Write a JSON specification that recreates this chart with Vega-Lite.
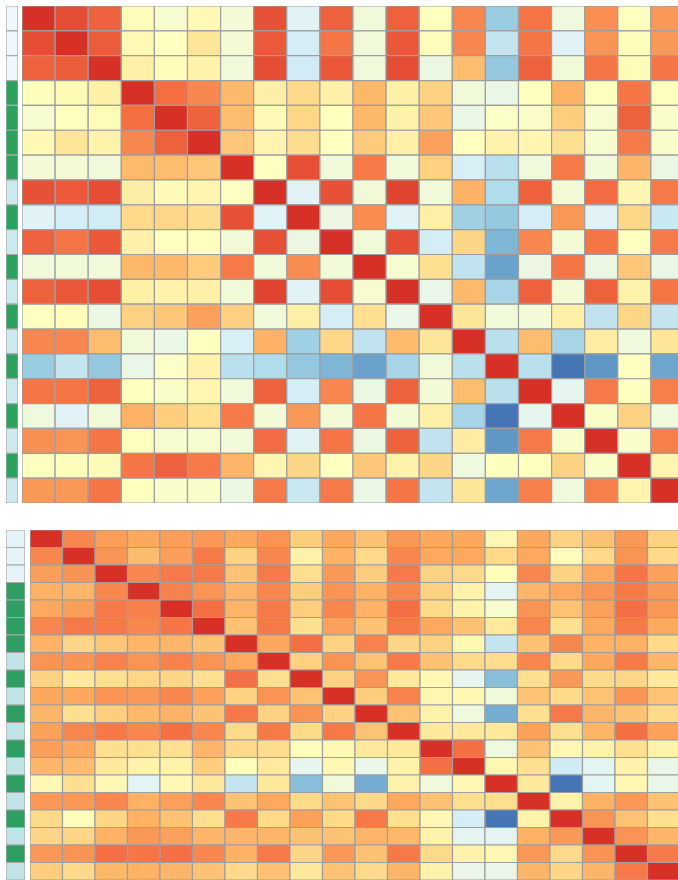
{
"$schema": "https://vega.github.io/schema/vega-lite/v6.json",
"padding": {"left": 6, "top": 6, "right": 0, "bottom": 0},
"background": "white",
"config": {"view": {"stroke": null}},
"datasets": {
"strip": [
{"r":0,"g":"A"},{"r":1,"g":"A"},{"r":2,"g":"A"},{"r":3,"g":"B"},{"r":4,"g":"B"},{"r":5,"g":"B"},{"r":6,"g":"B"},{"r":7,"g":"C"},{"r":8,"g":"B"},{"r":9,"g":"C"},{"r":10,"g":"B"},{"r":11,"g":"C"},{"r":12,"g":"B"},{"r":13,"g":"C"},{"r":14,"g":"B"},{"r":15,"g":"C"},{"r":16,"g":"B"},{"r":17,"g":"C"},{"r":18,"g":"B"},{"r":19,"g":"C"}
],
"top": [
{"r":0,"c":0,"v":1},{"r":0,"c":1,"v":0.88},{"r":0,"c":2,"v":0.8},{"r":0,"c":3,"v":0.02},{"r":0,"c":4,"v":-0.07},{"r":0,"c":5,"v":0.05},{"r":0,"c":6,"v":-0.1},{"r":0,"c":7,"v":0.86},{"r":0,"c":8,"v":-0.24},{"r":0,"c":9,"v":0.8},{"r":0,"c":10,"v":-0.12},{"r":0,"c":11,"v":0.8},{"r":0,"c":12,"v":0},{"r":0,"c":13,"v":0.65},{"r":0,"c":14,"v":-0.58},{"r":0,"c":15,"v":0.72},{"r":0,"c":16,"v":-0.13},{"r":0,"c":17,"v":0.62},{"r":0,"c":18,"v":0},{"r":0,"c":19,"v":0.58},
{"r":1,"c":0,"v":0.88},{"r":1,"c":1,"v":1},{"r":1,"c":2,"v":0.82},{"r":1,"c":3,"v":0.05},{"r":1,"c":4,"v":0},{"r":1,"c":5,"v":0.2},{"r":1,"c":6,"v":-0.09},{"r":1,"c":7,"v":0.83},{"r":1,"c":8,"v":-0.3},{"r":1,"c":9,"v":0.72},{"r":1,"c":10,"v":-0.11},{"r":1,"c":11,"v":0.84},{"r":1,"c":12,"v":0.02},{"r":1,"c":13,"v":0.65},{"r":1,"c":14,"v":-0.38},{"r":1,"c":15,"v":0.72},{"r":1,"c":16,"v":-0.24},{"r":1,"c":17,"v":0.6},{"r":1,"c":18,"v":0.02},{"r":1,"c":19,"v":0.58},
{"r":2,"c":0,"v":0.8},{"r":2,"c":1,"v":0.82},{"r":2,"c":2,"v":1},{"r":2,"c":3,"v":0.12},{"r":2,"c":4,"v":0.03},{"r":2,"c":5,"v":0.1},{"r":2,"c":6,"v":-0.12},{"r":2,"c":7,"v":0.88},{"r":2,"c":8,"v":-0.32},{"r":2,"c":9,"v":0.84},{"r":2,"c":10,"v":-0.12},{"r":2,"c":11,"v":0.88},{"r":2,"c":12,"v":-0.16},{"r":2,"c":13,"v":0.43},{"r":2,"c":14,"v":-0.6},{"r":2,"c":15,"v":0.8},{"r":2,"c":16,"v":-0.11},{"r":2,"c":17,"v":0.72},{"r":2,"c":18,"v":0.03},{"r":2,"c":19,"v":0.72},
{"r":3,"c":0,"v":0.02},{"r":3,"c":1,"v":0.05},{"r":3,"c":2,"v":0.12},{"r":3,"c":3,"v":1},{"r":3,"c":4,"v":0.75},{"r":3,"c":5,"v":0.65},{"r":3,"c":6,"v":0.44},{"r":3,"c":7,"v":0.13},{"r":3,"c":8,"v":0.28},{"r":3,"c":9,"v":0.11},{"r":3,"c":10,"v":0.45},{"r":3,"c":11,"v":0.12},{"r":3,"c":12,"v":0.32},{"r":3,"c":13,"v":-0.11},{"r":3,"c":14,"v":-0.17},{"r":3,"c":15,"v":0},{"r":3,"c":16,"v":0.48},{"r":3,"c":17,"v":0},{"r":3,"c":18,"v":0.72},{"r":3,"c":19,"v":0},
{"r":4,"c":0,"v":-0.07},{"r":4,"c":1,"v":0},{"r":4,"c":2,"v":0.03},{"r":4,"c":3,"v":0.75},{"r":4,"c":4,"v":1},{"r":4,"c":5,"v":0.8},{"r":4,"c":6,"v":0.43},{"r":4,"c":7,"v":0.04},{"r":4,"c":8,"v":0.3},{"r":4,"c":9,"v":0},{"r":4,"c":10,"v":0.45},{"r":4,"c":11,"v":0.1},{"r":4,"c":12,"v":0.38},{"r":4,"c":13,"v":-0.17},{"r":4,"c":14,"v":-0.03},{"r":4,"c":15,"v":-0.04},{"r":4,"c":16,"v":0.34},{"r":4,"c":17,"v":-0.07},{"r":4,"c":18,"v":0.8},{"r":4,"c":19,"v":-0.05},
{"r":5,"c":0,"v":0.05},{"r":5,"c":1,"v":0.2},{"r":5,"c":2,"v":0.1},{"r":5,"c":3,"v":0.65},{"r":5,"c":4,"v":0.8},{"r":5,"c":5,"v":1},{"r":5,"c":6,"v":0.38},{"r":5,"c":7,"v":0.08},{"r":5,"c":8,"v":0.26},{"r":5,"c":9,"v":0},{"r":5,"c":10,"v":0.36},{"r":5,"c":11,"v":0.12},{"r":5,"c":12,"v":0.55},{"r":5,"c":13,"v":0},{"r":5,"c":14,"v":0.1},{"r":5,"c":15,"v":0.07},{"r":5,"c":16,"v":0.25},{"r":5,"c":17,"v":-0.07},{"r":5,"c":18,"v":0.7},{"r":5,"c":19,"v":-0.05},
{"r":6,"c":0,"v":-0.1},{"r":6,"c":1,"v":-0.09},{"r":6,"c":2,"v":-0.12},{"r":6,"c":3,"v":0.44},{"r":6,"c":4,"v":0.43},{"r":6,"c":5,"v":0.38},{"r":6,"c":6,"v":1},{"r":6,"c":7,"v":-0.01},{"r":6,"c":8,"v":0.87},{"r":6,"c":9,"v":-0.11},{"r":6,"c":10,"v":0.7},{"r":6,"c":11,"v":-0.11},{"r":6,"c":12,"v":0.33},{"r":6,"c":13,"v":-0.29},{"r":6,"c":14,"v":-0.43},{"r":6,"c":15,"v":-0.12},{"r":6,"c":16,"v":0.7},{"r":6,"c":17,"v":-0.12},{"r":6,"c":18,"v":0.46},{"r":6,"c":19,"v":-0.16},
{"r":7,"c":0,"v":0.86},{"r":7,"c":1,"v":0.83},{"r":7,"c":2,"v":0.88},{"r":7,"c":3,"v":0.13},{"r":7,"c":4,"v":0.04},{"r":7,"c":5,"v":0.08},{"r":7,"c":6,"v":-0.01},{"r":7,"c":7,"v":1},{"r":7,"c":8,"v":-0.24},{"r":7,"c":9,"v":0.86},{"r":7,"c":10,"v":-0.11},{"r":7,"c":11,"v":0.92},{"r":7,"c":12,"v":-0.12},{"r":7,"c":13,"v":0.48},{"r":7,"c":14,"v":-0.47},{"r":7,"c":15,"v":0.8},{"r":7,"c":16,"v":-0.1},{"r":7,"c":17,"v":0.76},{"r":7,"c":18,"v":0.07},{"r":7,"c":19,"v":0.7},
{"r":8,"c":0,"v":-0.24},{"r":8,"c":1,"v":-0.3},{"r":8,"c":2,"v":-0.32},{"r":8,"c":3,"v":0.28},{"r":8,"c":4,"v":0.3},{"r":8,"c":5,"v":0.26},{"r":8,"c":6,"v":0.87},{"r":8,"c":7,"v":-0.24},{"r":8,"c":8,"v":1},{"r":8,"c":9,"v":-0.16},{"r":8,"c":10,"v":0.63},{"r":8,"c":11,"v":-0.24},{"r":8,"c":12,"v":0.13},{"r":8,"c":13,"v":-0.55},{"r":8,"c":14,"v":-0.6},{"r":8,"c":15,"v":-0.3},{"r":8,"c":16,"v":0.58},{"r":8,"c":17,"v":-0.24},{"r":8,"c":18,"v":0.3},{"r":8,"c":19,"v":-0.36},
{"r":9,"c":0,"v":0.8},{"r":9,"c":1,"v":0.72},{"r":9,"c":2,"v":0.84},{"r":9,"c":3,"v":0.11},{"r":9,"c":4,"v":0},{"r":9,"c":5,"v":0},{"r":9,"c":6,"v":-0.11},{"r":9,"c":7,"v":0.86},{"r":9,"c":8,"v":-0.16},{"r":9,"c":9,"v":1},{"r":9,"c":10,"v":-0.11},{"r":9,"c":11,"v":0.88},{"r":9,"c":12,"v":-0.3},{"r":9,"c":13,"v":0.3},{"r":9,"c":14,"v":-0.7},{"r":9,"c":15,"v":0.65},{"r":9,"c":16,"v":-0.1},{"r":9,"c":17,"v":0.72},{"r":9,"c":18,"v":0},{"r":9,"c":19,"v":0.7},
{"r":10,"c":0,"v":-0.12},{"r":10,"c":1,"v":-0.11},{"r":10,"c":2,"v":-0.12},{"r":10,"c":3,"v":0.45},{"r":10,"c":4,"v":0.45},{"r":10,"c":5,"v":0.36},{"r":10,"c":6,"v":0.7},{"r":10,"c":7,"v":-0.11},{"r":10,"c":8,"v":0.63},{"r":10,"c":9,"v":-0.11},{"r":10,"c":10,"v":1},{"r":10,"c":11,"v":-0.07},{"r":10,"c":12,"v":0.25},{"r":10,"c":13,"v":-0.4},{"r":10,"c":14,"v":-0.8},{"r":10,"c":15,"v":-0.16},{"r":10,"c":16,"v":0.72},{"r":10,"c":17,"v":-0.16},{"r":10,"c":18,"v":0.38},{"r":10,"c":19,"v":-0.17},
{"r":11,"c":0,"v":0.8},{"r":11,"c":1,"v":0.84},{"r":11,"c":2,"v":0.88},{"r":11,"c":3,"v":0.12},{"r":11,"c":4,"v":0.1},{"r":11,"c":5,"v":0.12},{"r":11,"c":6,"v":-0.11},{"r":11,"c":7,"v":0.92},{"r":11,"c":8,"v":-0.24},{"r":11,"c":9,"v":0.88},{"r":11,"c":10,"v":-0.07},{"r":11,"c":11,"v":1},{"r":11,"c":12,"v":-0.18},{"r":11,"c":13,"v":0.44},{"r":11,"c":14,"v":-0.52},{"r":11,"c":15,"v":0.8},{"r":11,"c":16,"v":-0.1},{"r":11,"c":17,"v":0.8},{"r":11,"c":18,"v":0.1},{"r":11,"c":19,"v":0.72},
{"r":12,"c":0,"v":0},{"r":12,"c":1,"v":0.02},{"r":12,"c":2,"v":-0.16},{"r":12,"c":3,"v":0.32},{"r":12,"c":4,"v":0.38},{"r":12,"c":5,"v":0.55},{"r":12,"c":6,"v":0.33},{"r":12,"c":7,"v":-0.12},{"r":12,"c":8,"v":0.13},{"r":12,"c":9,"v":-0.3},{"r":12,"c":10,"v":0.25},{"r":12,"c":11,"v":-0.18},{"r":12,"c":12,"v":1},{"r":12,"c":13,"v":0.2},{"r":12,"c":14,"v":-0.11},{"r":12,"c":15,"v":-0.1},{"r":12,"c":16,"v":0.12},{"r":12,"c":17,"v":-0.4},{"r":12,"c":18,"v":0.3},{"r":12,"c":19,"v":-0.38},
{"r":13,"c":0,"v":0.65},{"r":13,"c":1,"v":0.65},{"r":13,"c":2,"v":0.43},{"r":13,"c":3,"v":-0.11},{"r":13,"c":4,"v":-0.17},{"r":13,"c":5,"v":0},{"r":13,"c":6,"v":-0.29},{"r":13,"c":7,"v":0.48},{"r":13,"c":8,"v":-0.55},{"r":13,"c":9,"v":0.3},{"r":13,"c":10,"v":-0.4},{"r":13,"c":11,"v":0.44},{"r":13,"c":12,"v":0.2},{"r":13,"c":13,"v":1},{"r":13,"c":14,"v":-0.43},{"r":13,"c":15,"v":0.43},{"r":13,"c":16,"v":-0.52},{"r":13,"c":17,"v":0.15},{"r":13,"c":18,"v":-0.13},{"r":13,"c":19,"v":0.2},
{"r":14,"c":0,"v":-0.58},{"r":14,"c":1,"v":-0.38},{"r":14,"c":2,"v":-0.6},{"r":14,"c":3,"v":-0.17},{"r":14,"c":4,"v":-0.03},{"r":14,"c":5,"v":0.1},{"r":14,"c":6,"v":-0.43},{"r":14,"c":7,"v":-0.47},{"r":14,"c":8,"v":-0.6},{"r":14,"c":9,"v":-0.7},{"r":14,"c":10,"v":-0.8},{"r":14,"c":11,"v":-0.52},{"r":14,"c":12,"v":-0.11},{"r":14,"c":13,"v":-0.43},{"r":14,"c":14,"v":1},{"r":14,"c":15,"v":-0.43},{"r":14,"c":16,"v":-1},{"r":14,"c":17,"v":-0.85},{"r":14,"c":18,"v":0},{"r":14,"c":19,"v":-0.78},
{"r":15,"c":0,"v":0.72},{"r":15,"c":1,"v":0.72},{"r":15,"c":2,"v":0.8},{"r":15,"c":3,"v":0},{"r":15,"c":4,"v":-0.04},{"r":15,"c":5,"v":0.07},{"r":15,"c":6,"v":-0.12},{"r":15,"c":7,"v":0.8},{"r":15,"c":8,"v":-0.3},{"r":15,"c":9,"v":0.65},{"r":15,"c":10,"v":-0.16},{"r":15,"c":11,"v":0.8},{"r":15,"c":12,"v":-0.1},{"r":15,"c":13,"v":0.43},{"r":15,"c":14,"v":-0.43},{"r":15,"c":15,"v":1},{"r":15,"c":16,"v":-0.2},{"r":15,"c":17,"v":0.7},{"r":15,"c":18,"v":0},{"r":15,"c":19,"v":0.68},
{"r":16,"c":0,"v":-0.13},{"r":16,"c":1,"v":-0.24},{"r":16,"c":2,"v":-0.11},{"r":16,"c":3,"v":0.48},{"r":16,"c":4,"v":0.34},{"r":16,"c":5,"v":0.25},{"r":16,"c":6,"v":0.7},{"r":16,"c":7,"v":-0.1},{"r":16,"c":8,"v":0.58},{"r":16,"c":9,"v":-0.1},{"r":16,"c":10,"v":0.72},{"r":16,"c":11,"v":-0.1},{"r":16,"c":12,"v":0.12},{"r":16,"c":13,"v":-0.52},{"r":16,"c":14,"v":-1},{"r":16,"c":15,"v":-0.2},{"r":16,"c":16,"v":1},{"r":16,"c":17,"v":-0.05},{"r":16,"c":18,"v":0.32},{"r":16,"c":19,"v":-0.13},
{"r":17,"c":0,"v":0.62},{"r":17,"c":1,"v":0.6},{"r":17,"c":2,"v":0.72},{"r":17,"c":3,"v":0},{"r":17,"c":4,"v":-0.07},{"r":17,"c":5,"v":-0.07},{"r":17,"c":6,"v":-0.12},{"r":17,"c":7,"v":0.76},{"r":17,"c":8,"v":-0.24},{"r":17,"c":9,"v":0.72},{"r":17,"c":10,"v":-0.16},{"r":17,"c":11,"v":0.8},{"r":17,"c":12,"v":-0.4},{"r":17,"c":13,"v":0.15},{"r":17,"c":14,"v":-0.85},{"r":17,"c":15,"v":0.7},{"r":17,"c":16,"v":-0.05},{"r":17,"c":17,"v":1},{"r":17,"c":18,"v":-0.05},{"r":17,"c":19,"v":0.68},
{"r":18,"c":0,"v":0},{"r":18,"c":1,"v":0.02},{"r":18,"c":2,"v":0.03},{"r":18,"c":3,"v":0.72},{"r":18,"c":4,"v":0.8},{"r":18,"c":5,"v":0.7},{"r":18,"c":6,"v":0.46},{"r":18,"c":7,"v":0.07},{"r":18,"c":8,"v":0.3},{"r":18,"c":9,"v":0},{"r":18,"c":10,"v":0.38},{"r":18,"c":11,"v":0.1},{"r":18,"c":12,"v":0.3},{"r":18,"c":13,"v":-0.13},{"r":18,"c":14,"v":0},{"r":18,"c":15,"v":0},{"r":18,"c":16,"v":0.32},{"r":18,"c":17,"v":-0.05},{"r":18,"c":18,"v":1},{"r":18,"c":19,"v":0.08},
{"r":19,"c":0,"v":0.58},{"r":19,"c":1,"v":0.58},{"r":19,"c":2,"v":0.72},{"r":19,"c":3,"v":0},{"r":19,"c":4,"v":-0.05},{"r":19,"c":5,"v":-0.05},{"r":19,"c":6,"v":-0.16},{"r":19,"c":7,"v":0.7},{"r":19,"c":8,"v":-0.36},{"r":19,"c":9,"v":0.7},{"r":19,"c":10,"v":-0.17},{"r":19,"c":11,"v":0.72},{"r":19,"c":12,"v":-0.38},{"r":19,"c":13,"v":0.2},{"r":19,"c":14,"v":-0.78},{"r":19,"c":15,"v":0.68},{"r":19,"c":16,"v":-0.13},{"r":19,"c":17,"v":0.68},{"r":19,"c":18,"v":0.08},{"r":19,"c":19,"v":1}
],
"bottom": [
{"r":0,"c":0,"v":1},{"r":0,"c":1,"v":0.65},{"r":0,"c":2,"v":0.56},{"r":0,"c":3,"v":0.52},{"r":0,"c":4,"v":0.56},{"r":0,"c":5,"v":0.58},{"r":0,"c":6,"v":0.52},{"r":0,"c":7,"v":0.6},{"r":0,"c":8,"v":0.34},{"r":0,"c":9,"v":0.52},{"r":0,"c":10,"v":0.4},{"r":0,"c":11,"v":0.58},{"r":0,"c":12,"v":0.52},{"r":0,"c":13,"v":0.52},{"r":0,"c":14,"v":0.06},{"r":0,"c":15,"v":0.52},{"r":0,"c":16,"v":0.32},{"r":0,"c":17,"v":0.4},{"r":0,"c":18,"v":0.58},{"r":0,"c":19,"v":0.32},
{"r":1,"c":0,"v":0.65},{"r":1,"c":1,"v":1},{"r":1,"c":2,"v":0.6},{"r":1,"c":3,"v":0.43},{"r":1,"c":4,"v":0.56},{"r":1,"c":5,"v":0.7},{"r":1,"c":6,"v":0.32},{"r":1,"c":7,"v":0.65},{"r":1,"c":8,"v":0.1},{"r":1,"c":9,"v":0.48},{"r":1,"c":10,"v":0.28},{"r":1,"c":11,"v":0.65},{"r":1,"c":12,"v":0.52},{"r":1,"c":13,"v":0.52},{"r":1,"c":14,"v":0.28},{"r":1,"c":15,"v":0.52},{"r":1,"c":16,"v":0.02},{"r":1,"c":17,"v":0.28},{"r":1,"c":18,"v":0.6},{"r":1,"c":19,"v":0.28},
{"r":2,"c":0,"v":0.56},{"r":2,"c":1,"v":0.6},{"r":2,"c":2,"v":1},{"r":2,"c":3,"v":0.65},{"r":2,"c":4,"v":0.7},{"r":2,"c":5,"v":0.7},{"r":2,"c":6,"v":0.4},{"r":2,"c":7,"v":0.7},{"r":2,"c":8,"v":0.25},{"r":2,"c":9,"v":0.58},{"r":2,"c":10,"v":0.34},{"r":2,"c":11,"v":0.7},{"r":2,"c":12,"v":0.32},{"r":2,"c":13,"v":0.28},{"r":2,"c":14,"v":0.02},{"r":2,"c":15,"v":0.65},{"r":2,"c":16,"v":0.32},{"r":2,"c":17,"v":0.52},{"r":2,"c":18,"v":0.72},{"r":2,"c":19,"v":0.55},
{"r":3,"c":0,"v":0.48},{"r":3,"c":1,"v":0.46},{"r":3,"c":2,"v":0.65},{"r":3,"c":3,"v":1},{"r":3,"c":4,"v":0.67},{"r":3,"c":5,"v":0.6},{"r":3,"c":6,"v":0.46},{"r":3,"c":7,"v":0.65},{"r":3,"c":8,"v":0.34},{"r":3,"c":9,"v":0.6},{"r":3,"c":10,"v":0.48},{"r":3,"c":11,"v":0.65},{"r":3,"c":12,"v":0.32},{"r":3,"c":13,"v":0.1},{"r":3,"c":14,"v":-0.22},{"r":3,"c":15,"v":0.46},{"r":3,"c":16,"v":0.52},{"r":3,"c":17,"v":0.6},{"r":3,"c":18,"v":0.7},{"r":3,"c":19,"v":0.58},
{"r":4,"c":0,"v":0.52},{"r":4,"c":1,"v":0.56},{"r":4,"c":2,"v":0.7},{"r":4,"c":3,"v":0.68},{"r":4,"c":4,"v":1},{"r":4,"c":5,"v":0.74},{"r":4,"c":6,"v":0.46},{"r":4,"c":7,"v":0.7},{"r":4,"c":8,"v":0.34},{"r":4,"c":9,"v":0.65},{"r":4,"c":10,"v":0.48},{"r":4,"c":11,"v":0.74},{"r":4,"c":12,"v":0.28},{"r":4,"c":13,"v":0.1},{"r":4,"c":14,"v":-0.07},{"r":4,"c":15,"v":0.6},{"r":4,"c":16,"v":0.4},{"r":4,"c":17,"v":0.55},{"r":4,"c":18,"v":0.74},{"r":4,"c":19,"v":0.58},
{"r":5,"c":0,"v":0.65},{"r":5,"c":1,"v":0.7},{"r":5,"c":2,"v":0.7},{"r":5,"c":3,"v":0.65},{"r":5,"c":4,"v":0.72},{"r":5,"c":5,"v":1},{"r":5,"c":6,"v":0.4},{"r":5,"c":7,"v":0.7},{"r":5,"c":8,"v":0.25},{"r":5,"c":9,"v":0.55},{"r":5,"c":10,"v":0.4},{"r":5,"c":11,"v":0.7},{"r":5,"c":12,"v":0.52},{"r":5,"c":13,"v":0.4},{"r":5,"c":14,"v":0.18},{"r":5,"c":15,"v":0.65},{"r":5,"c":16,"v":0.25},{"r":5,"c":17,"v":0.52},{"r":5,"c":18,"v":0.7},{"r":5,"c":19,"v":0.52},
{"r":6,"c":0,"v":0.48},{"r":6,"c":1,"v":0.3},{"r":6,"c":2,"v":0.38},{"r":6,"c":3,"v":0.46},{"r":6,"c":4,"v":0.46},{"r":6,"c":5,"v":0.4},{"r":6,"c":6,"v":1},{"r":6,"c":7,"v":0.52},{"r":6,"c":8,"v":0.74},{"r":6,"c":9,"v":0.32},{"r":6,"c":10,"v":0.67},{"r":6,"c":11,"v":0.3},{"r":6,"c":12,"v":0.32},{"r":6,"c":13,"v":0.06},{"r":6,"c":14,"v":-0.38},{"r":6,"c":15,"v":0.4},{"r":6,"c":16,"v":0.65},{"r":6,"c":17,"v":0.48},{"r":6,"c":18,"v":0.48},{"r":6,"c":19,"v":0.28},
{"r":7,"c":0,"v":0.6},{"r":7,"c":1,"v":0.6},{"r":7,"c":2,"v":0.67},{"r":7,"c":3,"v":0.6},{"r":7,"c":4,"v":0.67},{"r":7,"c":5,"v":0.6},{"r":7,"c":6,"v":0.52},{"r":7,"c":7,"v":1},{"r":7,"c":8,"v":0.32},{"r":7,"c":9,"v":0.6},{"r":7,"c":10,"v":0.4},{"r":7,"c":11,"v":0.7},{"r":7,"c":12,"v":0.4},{"r":7,"c":13,"v":0.28},{"r":7,"c":14,"v":0.26},{"r":7,"c":15,"v":0.65},{"r":7,"c":16,"v":0.28},{"r":7,"c":17,"v":0.52},{"r":7,"c":18,"v":0.7},{"r":7,"c":19,"v":0.46},
{"r":8,"c":0,"v":0.32},{"r":8,"c":1,"v":0.18},{"r":8,"c":2,"v":0.25},{"r":8,"c":3,"v":0.3},{"r":8,"c":4,"v":0.3},{"r":8,"c":5,"v":0.25},{"r":8,"c":6,"v":0.74},{"r":8,"c":7,"v":0.25},{"r":8,"c":8,"v":1},{"r":8,"c":9,"v":0.32},{"r":8,"c":10,"v":0.6},{"r":8,"c":11,"v":0.18},{"r":8,"c":12,"v":0.06},{"r":8,"c":13,"v":-0.2},{"r":8,"c":14,"v":-0.65},{"r":8,"c":15,"v":0.25},{"r":8,"c":16,"v":0.58},{"r":8,"c":17,"v":0.28},{"r":8,"c":18,"v":0.3},{"r":8,"c":19,"v":0.18},
{"r":9,"c":0,"v":0.52},{"r":9,"c":1,"v":0.52},{"r":9,"c":2,"v":0.6},{"r":9,"c":3,"v":0.58},{"r":9,"c":4,"v":0.65},{"r":9,"c":5,"v":0.55},{"r":9,"c":6,"v":0.32},{"r":9,"c":7,"v":0.6},{"r":9,"c":8,"v":0.4},{"r":9,"c":9,"v":1},{"r":9,"c":10,"v":0.34},{"r":9,"c":11,"v":0.67},{"r":9,"c":12,"v":0.07},{"r":9,"c":13,"v":0.06},{"r":9,"c":14,"v":-0.12},{"r":9,"c":15,"v":0.4},{"r":9,"c":16,"v":0.28},{"r":9,"c":17,"v":0.4},{"r":9,"c":18,"v":0.6},{"r":9,"c":19,"v":0.4},
{"r":10,"c":0,"v":0.46},{"r":10,"c":1,"v":0.25},{"r":10,"c":2,"v":0.34},{"r":10,"c":3,"v":0.45},{"r":10,"c":4,"v":0.48},{"r":10,"c":5,"v":0.4},{"r":10,"c":6,"v":0.7},{"r":10,"c":7,"v":0.32},{"r":10,"c":8,"v":0.6},{"r":10,"c":9,"v":0.32},{"r":10,"c":10,"v":1},{"r":10,"c":11,"v":0.4},{"r":10,"c":12,"v":0.1},{"r":10,"c":13,"v":-0.13},{"r":10,"c":14,"v":-0.75},{"r":10,"c":15,"v":0.25},{"r":10,"c":16,"v":0.7},{"r":10,"c":17,"v":0.46},{"r":10,"c":18,"v":0.4},{"r":10,"c":19,"v":0.28},
{"r":11,"c":0,"v":0.55},{"r":11,"c":1,"v":0.65},{"r":11,"c":2,"v":0.7},{"r":11,"c":3,"v":0.65},{"r":11,"c":4,"v":0.74},{"r":11,"c":5,"v":0.65},{"r":11,"c":6,"v":0.28},{"r":11,"c":7,"v":0.7},{"r":11,"c":8,"v":0.28},{"r":11,"c":9,"v":0.7},{"r":11,"c":10,"v":0.4},{"r":11,"c":11,"v":1},{"r":11,"c":12,"v":0.18},{"r":11,"c":13,"v":0.18},{"r":11,"c":14,"v":0.18},{"r":11,"c":15,"v":0.55},{"r":11,"c":16,"v":0.25},{"r":11,"c":17,"v":0.46},{"r":11,"c":18,"v":0.74},{"r":11,"c":19,"v":0.55},
{"r":12,"c":0,"v":0.56},{"r":12,"c":1,"v":0.52},{"r":12,"c":2,"v":0.25},{"r":12,"c":3,"v":0.25},{"r":12,"c":4,"v":0.25},{"r":12,"c":5,"v":0.46},{"r":12,"c":6,"v":0.28},{"r":12,"c":7,"v":0.26},{"r":12,"c":8,"v":0.02},{"r":12,"c":9,"v":0.06},{"r":12,"c":10,"v":0.18},{"r":12,"c":11,"v":0.18},{"r":12,"c":12,"v":1},{"r":12,"c":13,"v":0.74},{"r":12,"c":14,"v":-0.13},{"r":12,"c":15,"v":0.4},{"r":12,"c":16,"v":0.06},{"r":12,"c":17,"v":0.1},{"r":12,"c":18,"v":0.25},{"r":12,"c":19,"v":0.1},
{"r":13,"c":0,"v":0.46},{"r":13,"c":1,"v":0.43},{"r":13,"c":2,"v":0.18},{"r":13,"c":3,"v":0.1},{"r":13,"c":4,"v":0.1},{"r":13,"c":5,"v":0.34},{"r":13,"c":6,"v":0.01},{"r":13,"c":7,"v":0.18},{"r":13,"c":8,"v":-0.2},{"r":13,"c":9,"v":0.06},{"r":13,"c":10,"v":-0.18},{"r":13,"c":11,"v":0.1},{"r":13,"c":12,"v":0.74},{"r":13,"c":13,"v":1},{"r":13,"c":14,"v":0.06},{"r":13,"c":15,"v":0.25},{"r":13,"c":16,"v":-0.33},{"r":13,"c":17,"v":-0.22},{"r":13,"c":18,"v":0.1},{"r":13,"c":19,"v":-0.18},
{"r":14,"c":0,"v":0.06},{"r":14,"c":1,"v":0.25},{"r":14,"c":2,"v":0.06},{"r":14,"c":3,"v":-0.23},{"r":14,"c":4,"v":0.06},{"r":14,"c":5,"v":0.18},{"r":14,"c":6,"v":-0.38},{"r":14,"c":7,"v":0.18},{"r":14,"c":8,"v":-0.65},{"r":14,"c":9,"v":-0.12},{"r":14,"c":10,"v":-0.75},{"r":14,"c":11,"v":0.1},{"r":14,"c":12,"v":-0.13},{"r":14,"c":13,"v":0.06},{"r":14,"c":14,"v":1},{"r":14,"c":15,"v":0.18},{"r":14,"c":16,"v":-1},{"r":14,"c":17,"v":-0.22},{"r":14,"c":18,"v":0.06},{"r":14,"c":19,"v":-0.18},
{"r":15,"c":0,"v":0.58},{"r":15,"c":1,"v":0.58},{"r":15,"c":2,"v":0.65},{"r":15,"c":3,"v":0.48},{"r":15,"c":4,"v":0.55},{"r":15,"c":5,"v":0.65},{"r":15,"c":6,"v":0.4},{"r":15,"c":7,"v":0.52},{"r":15,"c":8,"v":0.28},{"r":15,"c":9,"v":0.4},{"r":15,"c":10,"v":0.28},{"r":15,"c":11,"v":0.52},{"r":15,"c":12,"v":0.4},{"r":15,"c":13,"v":0.25},{"r":15,"c":14,"v":0.25},{"r":15,"c":15,"v":1},{"r":15,"c":16,"v":0.1},{"r":15,"c":17,"v":0.48},{"r":15,"c":18,"v":0.58},{"r":15,"c":19,"v":0.4},
{"r":16,"c":0,"v":0.28},{"r":16,"c":1,"v":0.02},{"r":16,"c":2,"v":0.3},{"r":16,"c":3,"v":0.48},{"r":16,"c":4,"v":0.4},{"r":16,"c":5,"v":0.25},{"r":16,"c":6,"v":0.7},{"r":16,"c":7,"v":0.28},{"r":16,"c":8,"v":0.55},{"r":16,"c":9,"v":0.28},{"r":16,"c":10,"v":0.7},{"r":16,"c":11,"v":0.25},{"r":16,"c":12,"v":0.06},{"r":16,"c":13,"v":-0.3},{"r":16,"c":14,"v":-1},{"r":16,"c":15,"v":0.1},{"r":16,"c":16,"v":1},{"r":16,"c":17,"v":0.6},{"r":16,"c":18,"v":0.4},{"r":16,"c":19,"v":0.25},
{"r":17,"c":0,"v":0.3},{"r":17,"c":1,"v":0.3},{"r":17,"c":2,"v":0.48},{"r":17,"c":3,"v":0.58},{"r":17,"c":4,"v":0.55},{"r":17,"c":5,"v":0.46},{"r":17,"c":6,"v":0.46},{"r":17,"c":7,"v":0.46},{"r":17,"c":8,"v":0.4},{"r":17,"c":9,"v":0.4},{"r":17,"c":10,"v":0.46},{"r":17,"c":11,"v":0.45},{"r":17,"c":12,"v":0.1},{"r":17,"c":13,"v":-0.22},{"r":17,"c":14,"v":-0.22},{"r":17,"c":15,"v":0.48},{"r":17,"c":16,"v":0.58},{"r":17,"c":17,"v":1},{"r":17,"c":18,"v":0.6},{"r":17,"c":19,"v":0.46},
{"r":18,"c":0,"v":0.58},{"r":18,"c":1,"v":0.6},{"r":18,"c":2,"v":0.74},{"r":18,"c":3,"v":0.72},{"r":18,"c":4,"v":0.74},{"r":18,"c":5,"v":0.65},{"r":18,"c":6,"v":0.48},{"r":18,"c":7,"v":0.7},{"r":18,"c":8,"v":0.3},{"r":18,"c":9,"v":0.58},{"r":18,"c":10,"v":0.4},{"r":18,"c":11,"v":0.7},{"r":18,"c":12,"v":0.28},{"r":18,"c":13,"v":0.1},{"r":18,"c":14,"v":0.06},{"r":18,"c":15,"v":0.58},{"r":18,"c":16,"v":0.28},{"r":18,"c":17,"v":0.6},{"r":18,"c":18,"v":1},{"r":18,"c":19,"v":0.7},
{"r":19,"c":0,"v":0.34},{"r":19,"c":1,"v":0.28},{"r":19,"c":2,"v":0.45},{"r":19,"c":3,"v":0.48},{"r":19,"c":4,"v":0.46},{"r":19,"c":5,"v":0.4},{"r":19,"c":6,"v":0.28},{"r":19,"c":7,"v":0.4},{"r":19,"c":8,"v":0.18},{"r":19,"c":9,"v":0.4},{"r":19,"c":10,"v":0.28},{"r":19,"c":11,"v":0.46},{"r":19,"c":12,"v":0.1},{"r":19,"c":13,"v":-0.18},{"r":19,"c":14,"v":-0.18},{"r":19,"c":15,"v":0.46},{"r":19,"c":16,"v":0.3},{"r":19,"c":17,"v":0.46},{"r":19,"c":18,"v":0.7},{"r":19,"c":19,"v":1}
]
},
"vconcat": [
{
"hconcat": [
{
"data": {"name": "strip"},
"width": 12, "height": 497,
"mark": {"type": "rect", "stroke": "#a8a8a8", "strokeWidth": 1.2, "clip": true},
"encoding": {
"y": {"field": "r", "type": "ordinal", "axis": null, "scale": {"paddingInner": 0, "paddingOuter": 0}},
"color": {"field": "g", "type": "nominal", "legend": null, "scale": {"domain": ["A", "B", "C"], "range": ["#eef8fd", "#2ca25f", "#cdeaee"]}}
}
},
{
"data": {"name": "top"},
"width": 656, "height": 497,
"mark": {"type": "rect", "stroke": "#9e9e9e", "strokeWidth": 1.2, "clip": true},
"encoding": {
"x": {"field": "c", "type": "ordinal", "axis": null, "scale": {"range": [0, 662], "paddingInner": 0, "paddingOuter": 0}},
"y": {"field": "r", "type": "ordinal", "axis": null, "scale": {"paddingInner": 0, "paddingOuter": 0}},
"color": {"field": "v", "type": "quantitative", "legend": null, "scale": {"domain": [-1, -0.75, -0.5, -0.25, 0, 0.25, 0.5, 0.75, 1], "range": ["#4575b4", "#74add1", "#abd9e9", "#e0f3f8", "#ffffbf", "#fee090", "#fdae61", "#f46d43", "#d73027"], "interpolate": "rgb"}}
}
}
],
"spacing": 4,
"resolve": {"scale": {"color": "independent", "y": "independent"}}
},
{
"hconcat": [
{
"data": {"name": "strip"},
"width": 19, "height": 350,
"mark": {"type": "rect", "stroke": "#a8a8a8", "strokeWidth": 1.2, "clip": true},
"encoding": {
"y": {"field": "r", "type": "ordinal", "axis": null, "scale": {"paddingInner": 0, "paddingOuter": 0}},
"color": {"field": "g", "type": "nominal", "legend": null, "scale": {"domain": ["A", "B", "C"], "range": ["#e6f3f8", "#2e9e62", "#c2e4e8"]}}
}
},
{
"data": {"name": "bottom"},
"width": 648, "height": 350,
"mark": {"type": "rect", "stroke": "#9e9e9e", "strokeWidth": 1.2, "clip": true},
"encoding": {
"x": {"field": "c", "type": "ordinal", "axis": null, "scale": {"range": [0, 650], "paddingInner": 0, "paddingOuter": 0}},
"y": {"field": "r", "type": "ordinal", "axis": null, "scale": {"paddingInner": 0, "paddingOuter": 0}},
"color": {"field": "v", "type": "quantitative", "legend": null, "scale": {"domain": [-1, -0.75, -0.5, -0.25, 0, 0.25, 0.5, 0.75, 1], "range": ["#4575b4", "#74add1", "#abd9e9", "#e0f3f8", "#ffffbf", "#fee090", "#fdae61", "#f46d43", "#d73027"], "interpolate": "rgb"}}
}
}
],
"spacing": 5,
"resolve": {"scale": {"color": "independent", "y": "independent"}}
}
],
"spacing": 27,
"resolve": {"scale": {"color": "independent", "y": "independent", "x": "independent"}}
}
